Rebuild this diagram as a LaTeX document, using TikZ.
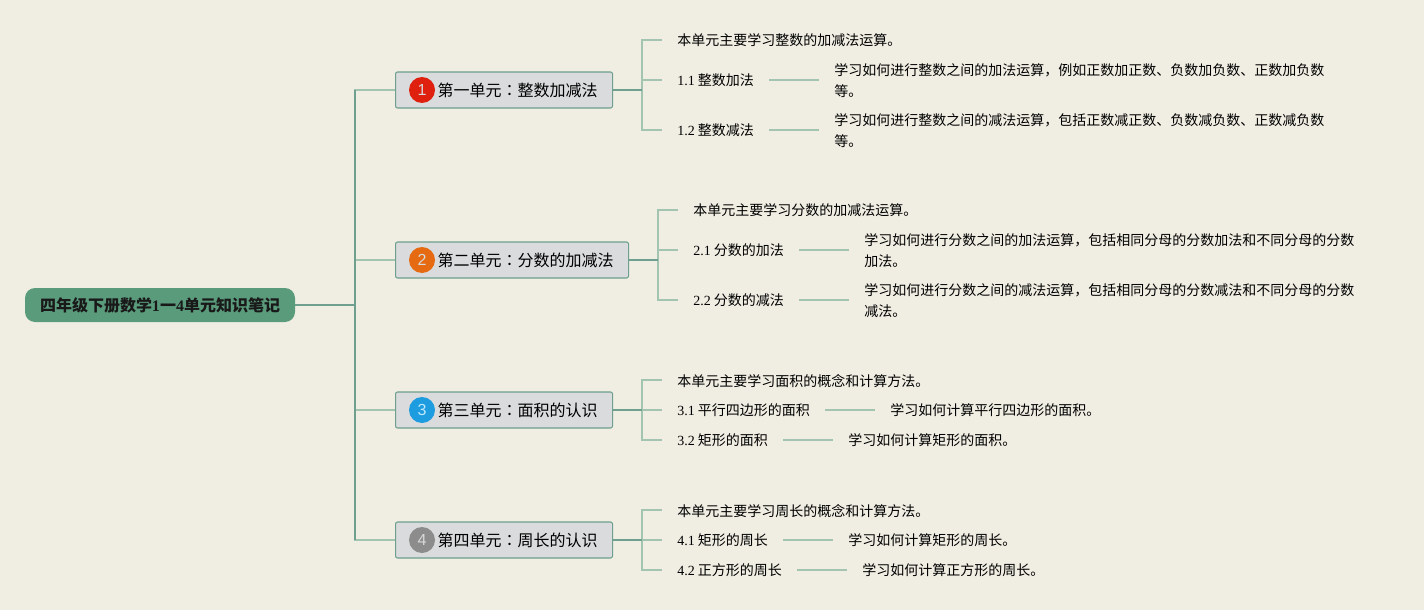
\documentclass[tikz,border=0pt]{standalone}
\usepackage{fontspec}
\setmainfont{Liberation Serif}
\setsansfont{Liberation Sans}
\newfontfamily\cjk{Noto Sans CJK SC}
\newfontfamily\cjktc{Noto Sans CJK TC}
\usetikzlibrary{positioning}
\newcommand{\lat}[1]{{\rmfamily #1}}
\newcommand{\colonmark}{{\cjktc ：}}
\definecolor{paper}{HTML}{F0EEE3}
\definecolor{rootgreen}{HTML}{5A9B7C}
\definecolor{unitgrey}{HTML}{D9DBDC}
\definecolor{darkline}{HTML}{6F9F8E}
\definecolor{paleline}{HTML}{A3C4B0}
\definecolor{badgered}{HTML}{E0200F}
\definecolor{badgeorange}{HTML}{E56A12}
\definecolor{badgeblue}{HTML}{1E9CE0}
\definecolor{badgegrey}{HTML}{8C8C8C}
\tikzstyle{rootbox} = [rectangle, rounded corners=7.5pt, fill=rootgreen, text=black!90, minimum height=25.5pt, minimum width=202.5pt, inner xsep=0pt, inner ysep=0pt, text depth=0pt, font=\cjk\bfseries\fontsize{12pt}{14pt}\selectfont]
\tikzstyle{unitbox} = [rectangle, rounded corners=1.5pt, draw=darkline, line width=0.8pt, fill=unitgrey, minimum height=27pt, inner xsep=11.25pt, inner ysep=0pt, text depth=0pt, anchor=west, font=\cjk\fontsize{12pt}{14pt}\selectfont]
\tikzstyle{badge} = [circle, minimum size=19.5pt, inner sep=0pt, text=white!85!black, font=\sffamily\fontsize{12pt}{14pt}\selectfont]
\tikzstyle{leaf} = [inner xsep=11.25pt, inner ysep=0pt, text depth=0pt, anchor=west, align=left, text=black, font=\cjk\fontsize{10.5pt}{15.75pt}\selectfont]
\tikzstyle{trunk} = [darkline, line width=1.5pt]
\tikzstyle{stem} = [darkline, line width=1.1pt]
\tikzstyle{branch} = [paleline, line width=1.3pt]
\begin{document}
\begin{tikzpicture}[x=0.75pt, y=-0.75pt]
\fill [paper] (0,0) rectangle (1424,610);
\useasboundingbox (0,0) rectangle (1424,610);
% root and its trunk
\node (root) [rootbox] at (160,305) {四年级下册数学\lat{1}一\lat{4}单元知识笔记};
\coordinate (hub) at (355,305);
% units
\node (unit1) [unitbox] at (395,90) {\hspace{20.25pt}第一单元\colonmark 整数加减法};
\node (unit2) [unitbox] at (395,260) {\hspace{20.25pt}第二单元\colonmark 分数的加减法};
\node (unit3) [unitbox] at (395,410) {\hspace{20.25pt}第三单元\colonmark 面积的认识};
\node (unit4) [unitbox] at (395,540) {\hspace{20.25pt}第四单元\colonmark 周长的认识};
\node (badge1) [badge, fill=badgered] at ([xshift=20.25pt]unit1.west) {1};
\node (badge2) [badge, fill=badgeorange] at ([xshift=20.25pt]unit2.west) {2};
\node (badge3) [badge, fill=badgeblue, text=cyan!25!white] at ([xshift=20.25pt]unit3.west) {3};
\node (badge4) [badge, fill=badgegrey] at ([xshift=20.25pt]unit4.west) {4};
% unit 1
\coordinate (joint1) at (642,90);
\node (intro1) [leaf] at (662,40) {本单元主要学习整数的加减法运算。};
\node (sec11) [leaf] at (662,80) {\lat{1.1} 整数加法};
\node (sec12) [leaf] at (662,130) {\lat{1.2} 整数减法};
\node (note11) [leaf, right=37.5pt of sec11] {学习如何进行整数之间的加法运算，例如正数加正数、负数加负数、正数加负数\\等。};
\node (note12) [leaf, right=37.5pt of sec12] {学习如何进行整数之间的减法运算，包括正数减正数、负数减负数、正数减负数\\等。};
% unit 2
\coordinate (joint2) at (658,260);
\node (intro2) [leaf] at (678,210) {本单元主要学习分数的加减法运算。};
\node (sec21) [leaf] at (678,250) {\lat{2.1} 分数的加法};
\node (sec22) [leaf] at (678,300) {\lat{2.2} 分数的减法};
\node (note21) [leaf, right=37.5pt of sec21] {学习如何进行分数之间的加法运算，包括相同分母的分数加法和不同分母的分数\\加法。};
\node (note22) [leaf, right=37.5pt of sec22] {学习如何进行分数之间的减法运算，包括相同分母的分数减法和不同分母的分数\\减法。};
% unit 3
\coordinate (joint3) at (642,410);
\node (intro3) [leaf] at (662,380) {本单元主要学习面积的概念和计算方法。};
\node (sec31) [leaf] at (662,410) {\lat{3.1} 平行四边形的面积};
\node (sec32) [leaf] at (662,440) {\lat{3.2} 矩形的面积};
\node (note31) [leaf, right=37.5pt of sec31] {学习如何计算平行四边形的面积。};
\node (note32) [leaf, right=37.5pt of sec32] {学习如何计算矩形的面积。};
% unit 4
\coordinate (joint4) at (642,540);
\node (intro4) [leaf] at (662,510) {本单元主要学习周长的概念和计算方法。};
\node (sec41) [leaf] at (662,540) {\lat{4.1} 矩形的周长};
\node (sec42) [leaf] at (662,570) {\lat{4.2} 正方形的周长};
\node (note41) [leaf, right=37.5pt of sec41] {学习如何计算矩形的周长。};
\node (note42) [leaf, right=37.5pt of sec42] {学习如何计算正方形的周长。};
% connectors
\draw [trunk] (root.east) -- (hub);
\draw [branch] (hub) |- (unit1.west);
\draw [branch] (hub) |- (unit2.west);
\draw [branch] (hub) |- (unit3.west);
\draw [branch] (hub) |- (unit4.west);
\draw [stem] (hub |- unit1.west) -- (hub |- unit4.west);
\draw [branch] (joint1) |- (intro1.west);
\draw [branch] (joint1) |- (sec11.west);
\draw [branch] (joint1) |- (sec12.west);
\draw [trunk] (unit1.east) -- (joint1);
\draw [branch] (sec11) -- (note11);
\draw [branch] (sec12) -- (note12);
\draw [branch] (joint2) |- (intro2.west);
\draw [branch] (joint2) |- (sec21.west);
\draw [branch] (joint2) |- (sec22.west);
\draw [trunk] (unit2.east) -- (joint2);
\draw [branch] (sec21) -- (note21);
\draw [branch] (sec22) -- (note22);
\draw [branch] (joint3) |- (intro3.west);
\draw [branch] (joint3) -- (sec31.west);
\draw [branch] (joint3) |- (sec32.west);
\draw [trunk] (unit3.east) -- (joint3);
\draw [branch] (sec31) -- (note31);
\draw [branch] (sec32) -- (note32);
\draw [branch] (joint4) |- (intro4.west);
\draw [branch] (joint4) -- (sec41.west);
\draw [branch] (joint4) |- (sec42.west);
\draw [trunk] (unit4.east) -- (joint4);
\draw [branch] (sec41) -- (note41);
\draw [branch] (sec42) -- (note42);
\end{tikzpicture}
\end{document}
